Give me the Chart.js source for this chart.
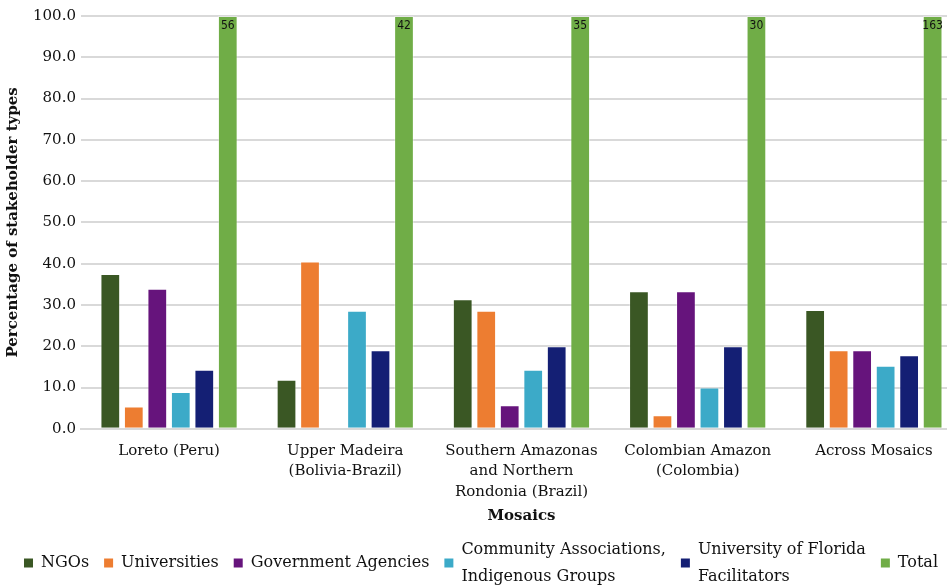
<!DOCTYPE html>
<html>
<head>
<meta charset="utf-8">
<script src="https://cdn.jsdelivr.net/npm/chart.js@4"></script>
<style>
  html, body { margin: 0; padding: 0; background: #fff; overflow: hidden; }
  #wrap { width: 962px; height: 588px; }
</style>
</head>
<body>
<div id="wrap"><canvas id="chart" width="962" height="588"></canvas></div>
<script>
// categories
const mosaics = [
    'Loreto (Peru)',
    ['Upper Madeira', '(Bolivia-Brazil)'],
    ['Southern Amazonas', 'and Northern', 'Rondonia (Brazil)'],
    ['Colombian Amazon', '(Colombia)'],
    'Across Mosaics'
];

// percentages per stakeholder type
const ngos = [37.5, 11.9, 31.4, 33.3, 28.8];
const universities = [5.4, 40.5, 28.6, 3.3, 19.0];
const govAgencies = [33.9, 0, 5.7, 33.3, 19.0];
const communityAssoc = [8.9, 28.6, 14.3, 10.0, 15.3];
const ufFacilitators = [14.3, 19.0, 20.0, 20.0, 17.8];
const total = [100, 100, 100, 100, 100];
// number of stakeholders (shown on Total bars)
const totalCounts = [56, 42, 35, 30, 163];

const yTicks = [0, 10, 20, 30, 40, 50, 60, 70, 80, 90, 100];

const legendText = [
    'NGOs',
    'Universities',
    'Government Agencies',
    ['Community Associations,', 'Indigenous Groups'],
    ['University of Florida', 'Facilitators'],
    'Total'
];

const fontFamily = "'DejaVu Serif', serif";
const legendSize = 16;

// count on top of each Total bar
const totalLabels = {
    id: 'totalLabels',
    afterDatasetsDraw(chart) {
        const ctx = chart.ctx;
        const meta = chart.getDatasetMeta(5);
        ctx.save();
        ctx.font = "12px 'DejaVu Sans Condensed', 'DejaVu Sans', sans-serif";
        ctx.fillStyle = '#111';
        ctx.textAlign = 'center';
        ctx.textBaseline = 'top';
        meta.data.forEach((bar, i) => {
            ctx.fillText(String(totalCounts[i]), bar.x, bar.y + 4);
        });
        ctx.restore();
    }
};

// two-line legend entries (centred on the legend box)
const legendLines = {
    id: 'legendLines',
    afterDraw(chart) {
        const legend = chart.legend;
        if (!legend || !legend.legendHitBoxes) return;
        const ctx = chart.ctx;
        const boxW = legend.options.labels.boxWidth;
        ctx.save();
        ctx.font = legendSize + 'px ' + fontFamily;
        ctx.fillStyle = '#111';
        ctx.textAlign = 'left';
        ctx.textBaseline = 'middle';
        legendText.forEach((t, i) => {
            if (!Array.isArray(t)) return;
            const hb = legend.legendHitBoxes[i];
            const x = hb.left + boxW + legendSize / 2;
            const cy = hb.top + hb.height / 2;
            ctx.fillText(t[0], x, cy - 13.5);
            ctx.fillText(t[1], x, cy + 13.5);
        });
        ctx.restore();
    }
};

function ds(label, data, color) {
    return {
        label: label,
        data: data,
        backgroundColor: color,
        borderColor: 'rgba(255,255,255,0.35)',
        borderWidth: 1,
        categoryPercentage: 0.8,
        barPercentage: 0.84
    };
}

const chart = new Chart(document.getElementById('chart'), {
    type: 'bar',
    data: {
        labels: mosaics,
        datasets: [
            ds('NGOs', ngos, '#3A5724'),
            ds('Universities', universities, '#ED7D31'),
            ds('Government Agencies', govAgencies, '#66147C'),
            ds('Community Associations, Indigenous Groups', communityAssoc, '#3CAAC8'),
            ds('University of Florida Facilitators', ufFacilitators, '#141F74'),
            ds('Total', total, '#70AD47')
        ]
    },
    options: {
        responsive: false,
        animation: false,
        layout: { padding: { top: 16, left: 0, right: 0, bottom: 7 } },
        plugins: {
            tooltip: { enabled: false },
            legend: {
                position: 'bottom',
                labels: {
                    font: { family: fontFamily, size: legendSize },
                    color: '#111',
                    boxWidth: 9,
                    boxHeight: 9,
                    padding: 15,
                    generateLabels(chart) {
                        return chart.data.datasets.map((d, i) => {
                            const t = legendText[i];
                            const multi = Array.isArray(t);
                            return {
                                text: multi ? (t[0].length > t[1].length ? t[0] : t[1]) : t,
                                fontColor: multi ? 'rgba(0,0,0,0)' : '#111',
                                fillStyle: d.backgroundColor,
                                strokeStyle: d.backgroundColor,
                                lineWidth: 0,
                                datasetIndex: i
                            };
                        });
                    }
                }
            }
        },
        scales: {
            x: {
                grid: { display: false },
                border: { color: '#d9d9d9', width: 2 },
                ticks: {
                    color: '#111',
                    font: { family: fontFamily, size: 15, lineHeight: 1.36 },
                    maxRotation: 0,
                    autoSkip: false,
                    padding: 4
                },
                title: {
                    display: true,
                    text: 'Mosaics',
                    color: '#111',
                    font: { family: fontFamily, size: 15, weight: 'bold' },
                    padding: { top: 1, bottom: 15 }
                }
            },
            y: {
                min: 0,
                max: 100,
                afterBuildTicks(axis) {
                    axis.ticks = yTicks.map(v => ({ value: v }));
                },
                grid: { color: '#d9d9d9', lineWidth: 2, drawTicks: false },
                border: { display: false },
                ticks: {
                    color: '#111',
                    font: { family: fontFamily, size: 15 },
                    padding: 5,
                    callback: v => Number(v).toFixed(1)
                },
                title: {
                    display: true,
                    text: 'Percentage of stakeholder types',
                    color: '#111',
                    font: { family: fontFamily, size: 15, weight: 'bold' },
                    padding: { top: 4, bottom: 6 }
                }
            }
        }
    },
    plugins: [totalLabels, legendLines]
});
</script>
</body>
</html>
